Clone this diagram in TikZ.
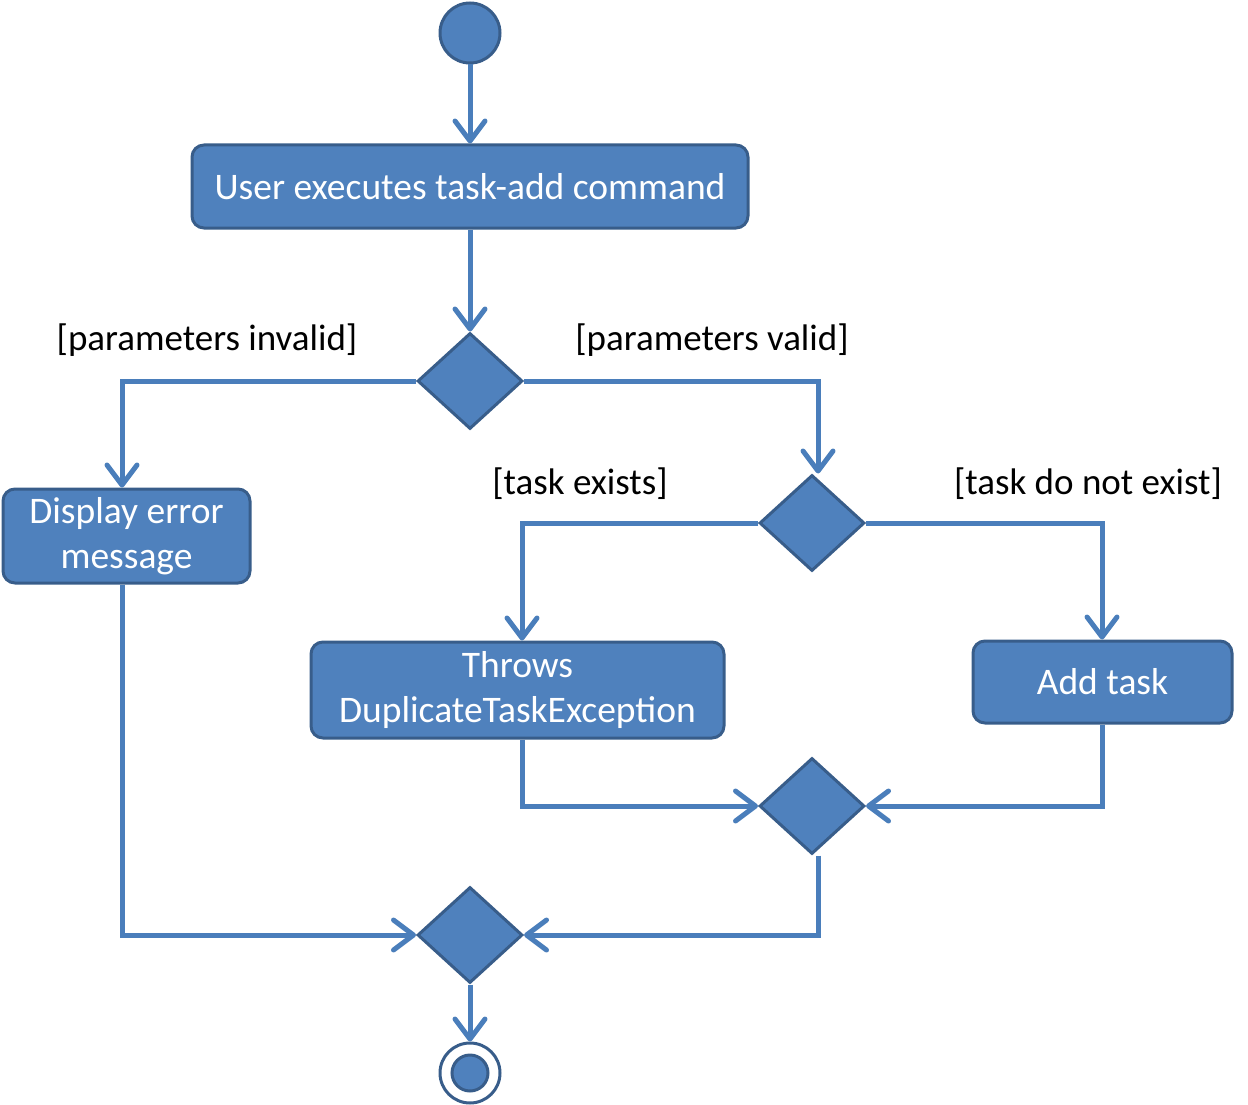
\documentclass[tikz,border=0pt]{standalone}
\usepackage{fontspec}
\setmainfont{Carlito}
\usetikzlibrary{shapes.geometric,arrows.meta}
\definecolor{fillblue}{HTML}{4F81BD}
\definecolor{edgeblue}{HTML}{385D8A}
\definecolor{lineblue}{HTML}{4A7EBB}
\tikzset{
  actbox/.style={draw=edgeblue, fill=fillblue, line width=3pt, rounded corners=12pt, text=white, align=center, font=\fontsize{37.5}{45}\selectfont, inner sep=0pt},
  decision/.style={diamond, draw=edgeblue, fill=fillblue, line width=3pt, minimum width=105pt, minimum height=96pt, inner sep=0pt},
  guard/.style={font=\fontsize{37}{44}\selectfont, text=black, inner sep=0pt},
  flow/.style={draw=lineblue, line width=5pt, -{Straight Barb[length=20pt, width=30pt, line width=5pt, round]}}
}
\begin{document}
\begin{tikzpicture}[x=1pt, y=-1pt]
\useasboundingbox (0,0) rectangle (1248,1105);
% start
\node[circle, draw=edgeblue, fill=fillblue, line width=3pt, minimum size=60pt, inner sep=0pt] (start) at (470,33) {};
% boxes
\node[actbox, minimum width=556pt, minimum height=83pt] (exec) at (470,186.5) {User executes task-add command};
\node[decision] (d1) at (470,381) {};
\node[actbox, minimum width=247pt, minimum height=94pt] (err) at (126.5,536) {Display error\\message};
\node[decision] (d2) at (812,523) {};
\node[actbox, minimum width=413pt, minimum height=96pt] (dup) at (517.5,690) {Throws\\DuplicateTaskException};
\node[actbox, minimum width=259pt, minimum height=82pt] (add) at (1102.5,682) {Add task};
\node[decision] (m1) at (812,806) {};
\node[decision] (m2) at (470,935) {};
% end
\node[circle, draw=edgeblue, line width=3pt, minimum size=60pt, inner sep=0pt] (endo) at (470,1073) {};
\node[circle, draw=edgeblue, fill=fillblue, line width=3pt, minimum size=36pt, inner sep=0pt] (endi) at (470,1073) {};
% guards
\node[guard] (g1) at (207,340) {[parameters invalid]};
\node[guard] (g2) at (712,340) {[parameters valid]};
\node[guard] (g3) at (580,484) {[task exists]};
\node[guard] (g4) at (1088,484) {[task do not exist]};
% coordinates
\coordinate (c1) at (122,381);
\coordinate (c2) at (818,381);
\coordinate (c3) at (522,523);
\coordinate (c4) at (1102,523);
\coordinate (c5) at (522,806);
\coordinate (c6) at (1102,806);
\coordinate (c7) at (818,935);
\coordinate (c8) at (122,935);
% connectors
\draw[flow] (start.south) -- (exec.north);
\draw[flow] (exec.south) -- (d1.north);
\draw[flow] (d1.west) -- (c1) -- (c1 |- err.north);
\draw[flow] (d1.east) -- (c2) -- (c2 |- d2.north);
\draw[flow] (d2.west) -- (c3) -- (c3 |- dup.north);
\draw[flow] (d2.east) -- (c4) -- (c4 |- add.north);
\draw[flow] (c5 |- dup.south) -- (c5) -- (m1.west);
\draw[flow] (c6 |- add.south) -- (c6) -- (m1.east);
\draw[flow] (c7 |- m1.south) -- (c7) -- (m2.east);
\draw[flow] (c8 |- err.south) -- (c8) -- (m2.west);
\draw[flow] (m2.south) -- (endo.north);
\end{tikzpicture}
\end{document}
